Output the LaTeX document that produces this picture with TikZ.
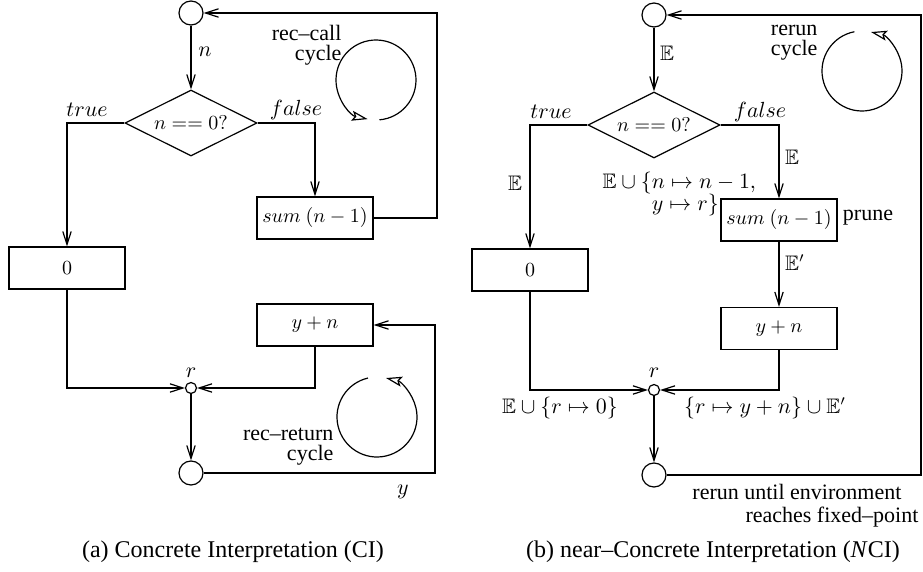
\documentclass[tikz,border=0pt]{standalone}
\usepackage{fontspec}
\setmainfont{Liberation Serif}
\usepackage{amssymb}
\usetikzlibrary{arrows.meta,shapes.geometric}
\begin{document}
\begin{tikzpicture}[x=0.5pt,y=-0.5pt,
  line width=0.6pt,
  arr/.style={-{Straight Barb[length=6.5pt,width=4.2pt]}},
  cyc/.style={-{Stealth[open,length=8pt,width=5pt,inset=1.5pt]}},
  box/.style={draw, rectangle, minimum width=58pt, minimum height=21pt, inner sep=0pt},
  dia/.style={draw, diamond, minimum width=66pt, minimum height=33pt, inner sep=0pt, aspect=2},
  term/.style={draw, circle, minimum size=12pt, inner sep=0pt},
  joint/.style={draw, circle, minimum size=5.5pt, inner sep=0pt},
  lbl/.style={font=\fontsize{10.5}{11}\selectfont, inner sep=0pt},
  txt/.style={font=\fontsize{11}{10}\selectfont, inner sep=0pt},
  captxt/.style={font=\fontsize{12}{14}\selectfont, inner sep=0pt}
]
\useasboundingbox (0,0) rectangle (923,572);

% ---------------- (a) ----------------
\node[term] (t1) at (191,13) {};
\node[dia] (d1) at (191,123) {$n == 0?$};
\node[box] (z1) at (67,268) {$0$};
\node[box] (s1) at (315,218) {$sum\ (n-1)$};
\node[box] (p1) at (315,325) {$y+n$};
\node[joint] (r1) at (191,388) {};
\node[term] (b1) at (191,473) {};
\coordinate (c1) at (437,218);
\coordinate (c2) at (435,473);

\draw[arr] (t1) -- (d1);
\draw[arr] (d1.west) -| (z1.north);
\draw[arr] (d1.east) -| (s1.north);
\draw[arr] (s1.east) -- (c1) |- (t1.east);
\draw[arr] (z1.south) |- (r1.west);
\draw[arr] (p1.south) |- (r1.east);
\draw[arr] (r1) -- (b1);
\draw[arr] (b1.east) -- (c2) |- (p1.east);

\node[lbl] (ln1) at (205,52) {$n$};
\node[lbl] (lt1) at (87,110) {$true$};
\node[lbl] (lf1) at (296,110) {$false$};
\node[lbl] (lr1) at (191,373) {$r$};
\node[lbl] (ly1) at (403,492) {$y$};
\node[txt, align=right, anchor=east] (cc1) at (342,45) {rec--call\\cycle};
\node[txt, align=right, anchor=east] (cr1) at (334,447) {rec--return\\cycle};

\draw[cyc] (376,80) ++(-85:20pt) arc[start angle=-85, end angle=258, radius=20pt];
\draw[cyc] (377,417) ++(103:20pt) arc[start angle=103, end angle=437, radius=20pt];

\node[captxt] (capa) at (233,552) {(a) Concrete Interpretation (CI)};

% ---------------- (b) ----------------
\node[term] (t2) at (654,15) {};
\node[dia] (d2) at (654,125) {$n == 0?$};
\node[box] (z2) at (530,270) {$0$};
\node[box] (s2) at (779,220) {$sum\ (n-1)$};
\node[box] (p2) at (779,328.5) {$y+n$};
\node[joint] (r2) at (654,390) {};
\node[term] (b2) at (654,475) {};
\coordinate (c3) at (921,475);

\draw[arr] (t2) -- (d2);
\draw[arr] (d2.west) -| (z2.north);
\draw[arr] (d2.east) -| (s2.north);
\draw[arr] (s2) -- (p2);
\draw[arr] (z2.south) |- (r2.west);
\draw[arr] (p2.south) |- (r2.east);
\draw[arr] (r2) -- (b2);
\draw[arr] (b2.east) -- (c3) |- (t2.east);

\node[lbl] (le0) at (667,53) {$\mathbb{E}$};
\node[lbl] (lt2) at (551,112) {$true$};
\node[lbl] (lf2) at (760,112) {$false$};
\node[lbl] (le1) at (515,183) {$\mathbb{E}$};
\node[lbl] (le2) at (792,157) {$\mathbb{E}$};
\node[lbl, align=left, anchor=west] (lenv) at (602,194)
  {$\mathbb{E}\cup\{n\mapsto n-1,$\\$\phantom{\mathbb{E}\cup\{}y\mapsto r\}$};
\node[txt] (prune) at (868,218) {prune};
\node[lbl] (le3) at (795,263) {$\mathbb{E}'$};
\node[lbl] (lr2) at (654,373) {$r$};
\node[lbl] (lez) at (560,408) {$\mathbb{E}\cup\{r\mapsto 0\}$};
\node[lbl] (lyn) at (765,408) {$\{r\mapsto y+n\}\cup\mathbb{E}'$};
\node[txt, anchor=east] (rr1) at (902,492) {rerun until environment};
\node[txt, anchor=east] (rr2) at (919,517) {reaches fixed--point};
\node[txt, align=right, anchor=east] (cc2) at (818,43) {rerun\\cycle};

\draw[cyc] (862,71) ++(101:20pt) arc[start angle=101, end angle=437, radius=20pt];

\node[captxt] (capb) at (713,552) {(b) near--Concrete Interpretation (\textit{N}CI)};
\end{tikzpicture}
\end{document}
